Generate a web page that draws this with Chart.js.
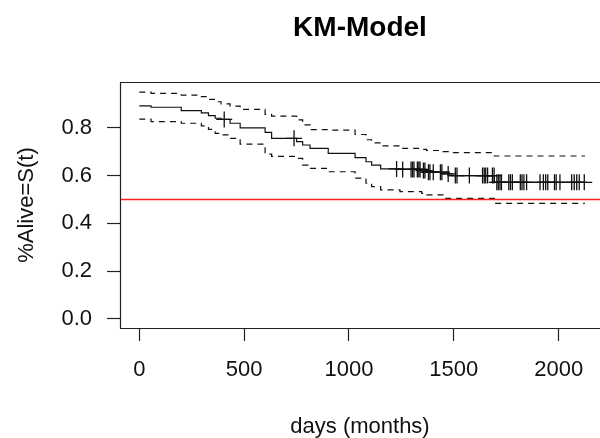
<!DOCTYPE html>
<html>
<head>
<meta charset="utf-8">
<script src="https://cdn.jsdelivr.net/npm/chart.js@4.4.1/dist/chart.umd.min.js"></script>
<style>
  html, body { margin: 0; padding: 0; background: #ffffff; overflow: hidden; }
  #wrap { width: 600px; height: 438px; }
</style>
</head>
<body>
<div id="wrap"><canvas id="c" width="600" height="438"></canvas></div>
<script>
// ---- data (Kaplan-Meier estimate with 95% CI) ----
const eventTimes = [0, 56, 200, 296, 330, 362, 390, 433, 481, 600, 631, 750, 779, 814, 901, 1029, 1081, 1108, 1151, 1243, 1347, 1370, 1448, 1490, 1693, 2125];
const survival   = [0.892, 0.886, 0.872, 0.862, 0.851, 0.840, 0.835, 0.819, 0.800, 0.781, 0.756, 0.742, 0.728, 0.714, 0.693, 0.675, 0.658, 0.644, 0.628, 0.626, 0.621, 0.614, 0.607, 0.600, 0.572, 0.572];
const upperCI    = [0.949, 0.944, 0.937, 0.930, 0.919, 0.909, 0.900, 0.891, 0.877, 0.856, 0.849, 0.833, 0.812, 0.792, 0.790, 0.772, 0.750, 0.737, 0.724, 0.714, 0.710, 0.705, 0.700, 0.696, 0.682, 0.682];
const lowerCI    = [0.836, 0.826, 0.819, 0.808, 0.793, 0.777, 0.770, 0.756, 0.732, 0.690, 0.680, 0.672, 0.644, 0.630, 0.616, 0.589, 0.568, 0.554, 0.540, 0.533, 0.526, 0.519, 0.505, 0.505, 0.484, 0.484];
const censorTimes = [405, 738, 1227, 1256, 1296, 1303, 1310, 1326, 1333, 1339, 1355, 1362, 1379, 1386, 1402, 1436, 1443, 1473, 1507, 1515, 1574, 1637, 1645, 1652, 1661, 1684, 1692, 1705, 1712, 1720, 1727, 1762, 1770, 1779, 1817, 1825, 1834, 1847, 1911, 1927, 1938, 1948, 1980, 1988, 2006, 2062, 2074, 2086, 2098, 2122];
const referenceLevel = 0.5;
const xTickValues = [0, 500, 1000, 1500, 2000];
const yTickValues = [0.0, 0.2, 0.4, 0.6, 0.8];
const chartTitle = 'KM-Model';
const xLabel = 'days (months)';
const yLabel = '%Alive=S(t)';

const X_MIN = -92, X_MAX = 2197;
const Y_MIN = -0.0377, Y_MAX = 0.9916;

function toPoints(ts, vs) { return ts.map((t, i) => ({ x: t, y: vs[i] })); }
function survAt(t) {
  let v = survival[0];
  for (let i = 0; i < eventTimes.length; i++) { if (eventTimes[i] <= t) v = survival[i]; }
  return v;
}

const FONT = '"Liberation Sans", Arial, Helvetica, sans-serif';
const INK = '#111111';

const boxPlugin = {
  id: 'rbox',
  afterDatasetsDraw(chart) {
    const { ctx, chartArea: a } = chart;
    ctx.save();
    ctx.strokeStyle = '#222';
    ctx.lineWidth = 1.2;
    ctx.beginPath();
    ctx.moveTo(a.right + 5, Math.round(a.top) + 0.5);
    ctx.lineTo(Math.round(a.left) + 0.5, Math.round(a.top) + 0.5);
    ctx.lineTo(Math.round(a.left) + 0.5, Math.round(a.bottom) + 0.5);
    ctx.lineTo(a.right + 5, Math.round(a.bottom) + 0.5);
    ctx.stroke();
    ctx.restore();
  }
};

new Chart(document.getElementById('c'), {
  type: 'line',
  data: {
    datasets: [
      { label: 'ref', data: [{ x: X_MIN, y: referenceLevel }, { x: X_MAX, y: referenceLevel }],
        borderColor: '#ff2020', borderWidth: 1.3, pointRadius: 0, fill: false },
      { label: 'upper', data: toPoints(eventTimes, upperCI), stepped: 'before',
        borderColor: '#111', borderWidth: 1.2, borderDash: [6, 5], pointRadius: 0, fill: false },
      { label: 'lower', data: toPoints(eventTimes, lowerCI), stepped: 'before',
        borderColor: '#111', borderWidth: 1.2, borderDash: [6, 5], pointRadius: 0, fill: false },
      { label: 'S(t)', data: toPoints(eventTimes, survival), stepped: 'before',
        borderColor: '#111', borderWidth: 1.2, pointRadius: 0, fill: false },
      { label: 'censored', data: censorTimes.map(t => ({ x: t, y: survAt(t) })), showLine: false,
        pointStyle: 'cross', pointRadius: 8, pointBorderWidth: 1.3, pointBorderColor: '#111',
        borderColor: '#111', backgroundColor: '#111' }
    ]
  },
  options: {
    responsive: false,
    animation: false,
    events: [],
    layout: { padding: 0, autoPadding: false },
    plugins: {
      legend: { display: false },
      tooltip: { enabled: false },
      title: {
        display: true, text: chartTitle, fullSize: false, color: '#000',
        font: { family: FONT, size: 28, weight: 'bold', lineHeight: 1.2 },
        padding: { top: 11.5, bottom: 36.9 }
      }
    },
    scales: {
      x: {
        type: 'linear', position: 'bottom', min: X_MIN, max: X_MAX,
        afterBuildTicks: s => { s.ticks = xTickValues.map(v => ({ value: v })); },
        afterFit: s => { s.height = 110; s.paddingLeft = 0; s.paddingRight = 0; },
        grid: { display: true, drawOnChartArea: false, drawTicks: true, tickLength: 13,
                tickColor: '#222', tickWidth: 1.2, color: '#222' },
        border: { display: false },
        ticks: { color: INK, padding: 16, maxRotation: 0, autoSkip: false,
                 font: { family: FONT, size: 22, lineHeight: 1.2 },
                 callback: v => String(v) },
        title: { display: true, text: xLabel, color: INK, padding: { top: 0, bottom: 0 },
                 font: { family: FONT, size: 22, lineHeight: 1 } }
      },
      y: {
        type: 'linear', position: 'left', min: Y_MIN, max: Y_MAX,
        afterBuildTicks: s => { s.ticks = yTickValues.map(v => ({ value: v })); },
        afterFit: s => { s.width = 120; s.paddingTop = 0; s.paddingBottom = 0; },
        grid: { display: true, drawOnChartArea: false, drawTicks: true, tickLength: 13,
                tickColor: '#222', tickWidth: 1.2, color: '#222' },
        border: { display: false },
        ticks: { color: INK, padding: 15, autoSkip: false,
                 font: { family: FONT, size: 22, lineHeight: 1.2 },
                 callback: v => Number(v).toFixed(1) },
        title: { display: true, text: yLabel, color: INK, padding: { top: 16, bottom: 0 },
                 font: { family: FONT, size: 22, lineHeight: 1 } }
      }
    }
  },
  plugins: [boxPlugin]
});
</script>
</body>
</html>
